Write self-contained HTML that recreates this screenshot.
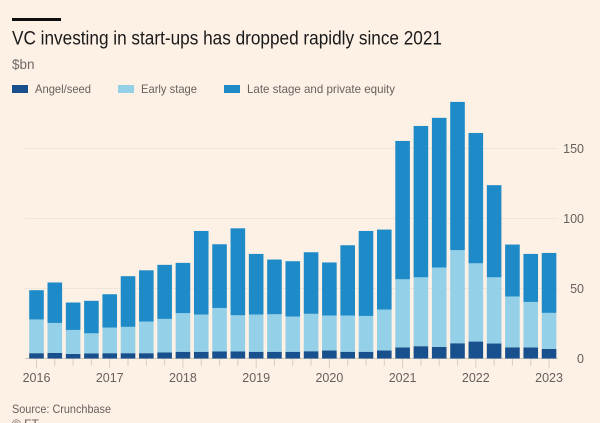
<!DOCTYPE html>
<html lang="en">
<head>
<meta charset="utf-8">
<title>VC investing in start-ups</title>
<style>
html,body{margin:0;padding:0;background:#fdf1e6;}
svg{display:block;font-family:"Liberation Sans",sans-serif;}
</style>
</head>
<body>
<svg id="chart" width="600" height="423" viewBox="0 0 600 423" xmlns="http://www.w3.org/2000/svg">
  <rect x="0" y="0" width="600" height="423" fill="#fdf1e6"/>
  <rect x="12" y="18" width="49" height="3" fill="#0f0f0f"/>
  <text x="12" y="44.5" font-size="19" fill="#1a1a1a" textLength="430" lengthAdjust="spacingAndGlyphs">VC investing in start-ups has dropped rapidly since 2021</text>
  <text x="12" y="69" font-size="13.5" fill="#6f6a66">$bn</text>

  <g>
    <rect x="12" y="85" width="16" height="8" fill="#17508c"/>
    <text x="35" y="93" font-size="12" fill="#66615d" textLength="56" lengthAdjust="spacingAndGlyphs">Angel/seed</text>
    <rect x="118" y="85" width="16" height="8" fill="#94d0e8"/>
    <text x="141" y="93" font-size="12" fill="#66615d" textLength="56" lengthAdjust="spacingAndGlyphs">Early stage</text>
    <rect x="224" y="85" width="16" height="8" fill="#1e8bc8"/>
    <text x="247" y="93" font-size="12" fill="#66615d" textLength="148" lengthAdjust="spacingAndGlyphs">Late stage and private equity</text>
  </g>

  <g id="grid"></g>
  <g id="ticks"></g>
  <g id="bars"></g>
  <g id="xlabels"></g>
  <g id="ylabels"></g>

  <text x="12" y="413" font-size="12" fill="#66615d" textLength="99" lengthAdjust="spacingAndGlyphs">Source: Crunchbase</text>
  <text x="12" y="428" font-size="12" fill="#66615d">© FT</text>
</svg>
<script>
var quarters = ["2016 Q1","2016 Q2","2016 Q3","2016 Q4","2017 Q1","2017 Q2","2017 Q3","2017 Q4","2018 Q1","2018 Q2","2018 Q3","2018 Q4","2019 Q1","2019 Q2","2019 Q3","2019 Q4","2020 Q1","2020 Q2","2020 Q3","2020 Q4","2021 Q1","2021 Q2","2021 Q3","2021 Q4","2022 Q1","2022 Q2","2022 Q3","2022 Q4","2023 Q1"];
var angelSeed = [3.8,4,3.3,3.6,3.8,3.8,3.8,4.3,4.8,4.8,5,5,4.8,4.8,4.8,5.2,5.7,4.8,4.8,5.7,7.9,8.8,8.3,10.9,12.1,10.7,8,7.9,6.9];
var earlyStage = [24.1,21.4,17.1,14.4,18.3,18.8,22.6,24,27.6,26.6,31.1,25.9,26.6,26.8,25.2,26.7,25,25.9,25.6,29.3,48.7,49.2,56.7,66.5,55.9,47.3,36.3,32.5,25.7];
var lateStage = [20.9,28.9,19.6,23.2,23.8,36.2,36.6,38.6,35.9,59.7,45.5,62.1,43.3,39.1,39.5,44,37.9,50.2,60.7,57.1,98.8,108.1,106.9,105.9,93.1,65.8,37.1,34.3,42.8];
var yTicks = [0,50,100,150];
var yearLabels = ["2016","2017","2018","2019","2020","2021","2022","2023"];

var NS = "http://www.w3.org/2000/svg";
function xCenter(i){ return 36.5 + i * 18.305; }
function yPos(v){ return 358.5 - v * 1.4; }
function make(tag, parent, attrs){
  var el = document.createElementNS(NS, tag);
  for (var k in attrs) el.setAttribute(k, attrs[k]);
  parent.appendChild(el);
  return el;
}

var gridG = document.getElementById("grid");
var yLabelG = document.getElementById("ylabels");
yTicks.forEach(function(t){
  var line = make("line", gridG, {x1:25, x2:558, y1:yPos(t), y2:yPos(t), stroke:t === 0 ? "#cfc6bc" : "#efe5da", "stroke-width":1});
  
  
  var label = make("text", yLabelG, {x:584, y:yPos(t) + 4.5, "text-anchor":"end", "font-size":12.5, fill:"#66615d"});
  
  
  label.textContent = String(t);
});

var tickG = document.getElementById("ticks");
quarters.forEach(function(q, i){
  var isYear = i % 4 === 0;
  var tick = make("line", tickG, {x1:xCenter(i), x2:xCenter(i), y1:359, y2:isYear ? 368 : 366, stroke:"#d8cec3", "stroke-width":1});
  
  
});

var xLabelG = document.getElementById("xlabels");
yearLabels.forEach(function(y, i){
  var label = make("text", xLabelG, {x:xCenter(i * 4), y:382, "text-anchor":"middle", "font-size":12.5, fill:"#66615d"});
  
  
  label.textContent = y;
});

var barG = document.getElementById("bars");
var barWidth = 14.6;
quarters.forEach(function(q, i){
  var base = 0;
  var a = angelSeed[i], e = earlyStage[i], l = lateStage[i];

  var seedBar = make("rect", barG, {x:xCenter(i) - barWidth / 2, y:yPos(base + a), width:barWidth, height:yPos(base) - yPos(base + a), fill:"#17508c"});
  
  
  base += a;

  var earlyBar = make("rect", barG, {x:xCenter(i) - barWidth / 2, y:yPos(base + e), width:barWidth, height:yPos(base) - yPos(base + e), fill:"#94d0e8"});
  
  
  base += e;

  var lateBar = make("rect", barG, {x:xCenter(i) - barWidth / 2, y:yPos(base + l), width:barWidth, height:yPos(base) - yPos(base + l), fill:"#1e8bc8"});
  
  
});
</script>
</body>
</html>
